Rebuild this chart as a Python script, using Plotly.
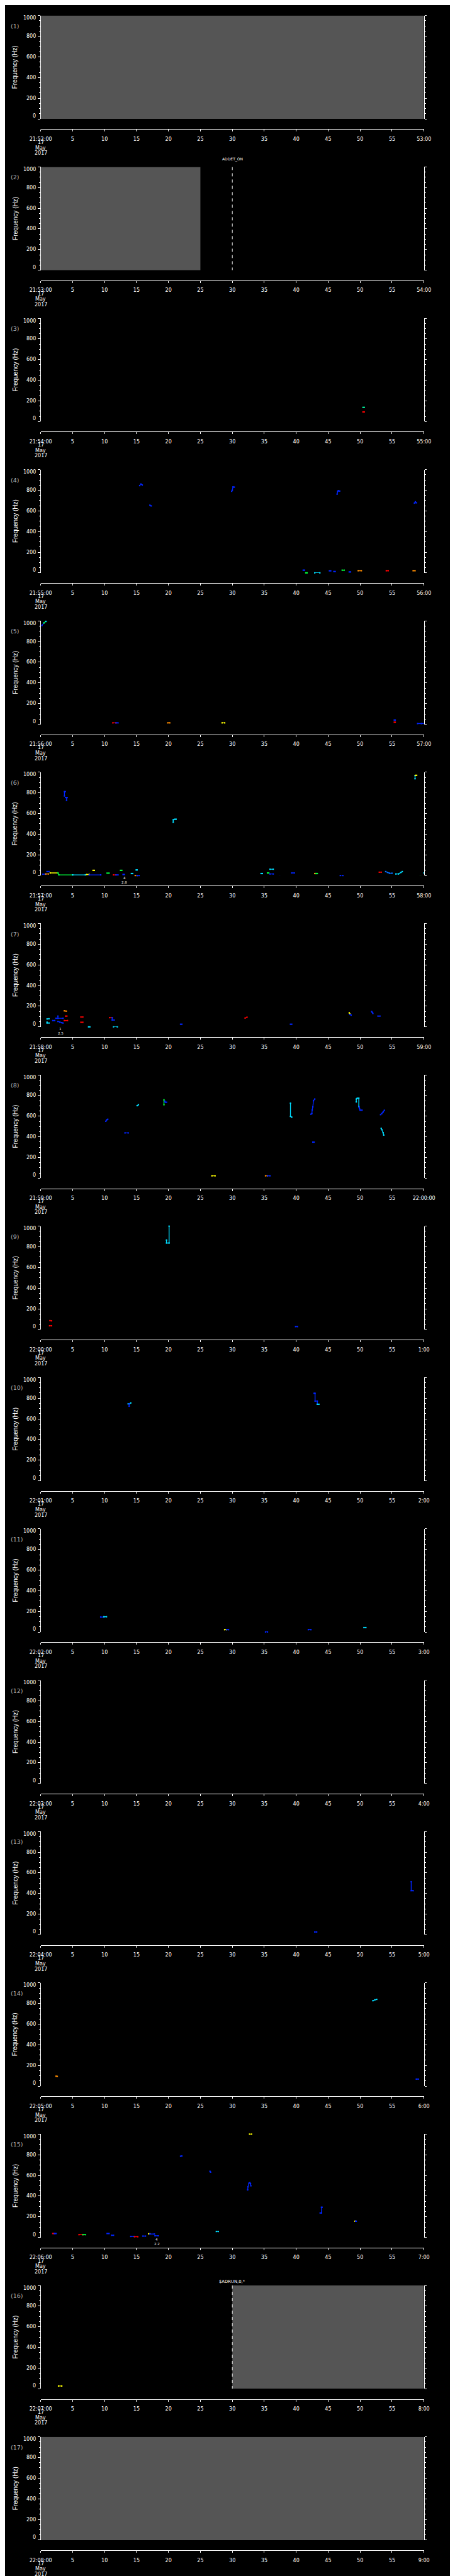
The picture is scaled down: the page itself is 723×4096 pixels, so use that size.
import plotly.graph_objects as go
from plotly.colors import sample_colorscale

# ---------------- data ----------------
START_LABELS = ["21:52:00", "21:53:00", "21:54:00", "21:55:00", "21:56:00", "21:57:00",
                "21:58:00", "21:59:00", "22:00:00", "22:01:00", "22:02:00", "22:03:00",
                "22:04:00", "22:05:00", "22:06:00", "22:07:00", "22:08:00"]
END_LABELS = ["53:00", "54:00", "55:00", "56:00", "57:00", "58:00", "59:00", "22:00:00",
              "1:00", "2:00", "3:00", "4:00", "5:00", "6:00", "7:00", "8:00", "9:00"]
X_TICKS = [0, 5, 10, 15, 20, 25, 30, 35, 40, 45, 50, 55, 60]
Y_TICKS = [0, 200, 400, 600, 800, 1000]
DATE_LINES = ["17", "May", "2017"]

# seconds without data (grey fill) per panel
NODATA = {1: (0, 60), 2: (0, 25), 16: (30, 60), 17: (0, 60)}
# event markers: (panel, second, label)
EVENTS = [(2, 30, "ADDET_ON"), (16, 30, "$ADRUN,0,*")]
# small notes under the plot: (panel, second, line1, line2)
NOTES = [(6, 13.1, "4", "2.8"), (7, 3.1, "1", "2.5"), (15, 18.2, "4", "2.2")]

# intensity levels (0 = weak/blue ... 1 = strong/red)
B, C, G, Yl, O, R = 0.05, 0.3, 0.5, 0.68, 0.85, 1.0

# features: (seconds, frequencies Hz, level)
P03 = [([50.45, 50.65], [137, 137], 0.4), ([50.45, 50.65], [93, 93], R)]
P04 = [([15.5, 15.7, 15.9], [845, 860, 850], B), ([17.1, 17.3], [655, 648], B),
       ([29.9, 30.0, 30.1, 30.3], [790, 800, 832, 830], B),
       ([46.4, 46.5, 46.6, 46.8], [762, 790, 795, 792], B),
       ([58.5, 58.65, 58.8], [675, 688, 678], B),
       ([60.2, 60.4, 60.6], [945, 960, 975], B), ([60.6, 60.8, 61.0, 61.2], [975, 988, 995, 997], C),
       ([41.1, 41.3], [26, 26], B), ([41.5, 41.7], [0, 0], G), ([42.9, 43.7], [0, 0], C),
       ([45.2, 45.4], [20, 20], B), ([45.9, 46.1], [13, 13], B), ([47.2, 47.5], [26, 26], G),
       ([48.3, 48.5], [9, 9], B), ([49.7, 50.2], [21, 21], O), ([54.1, 54.4], [21, 21], R),
       ([58.3, 58.6], [21, 21], O)]
P05 = [([0.2, 0.5], [955, 980], B), ([0.5, 0.8], [980, 995], G), ([0.8, 1.1], [995, 1008], C),
       ([5.4, 5.8], [-13, -13], O), ([11.3, 11.8], [13, 13], R), ([11.8, 12.1], [13, 13], B),
       ([19.9, 20.2], [13, 13], O), ([28.4, 28.8], [13, 13], Yl),
       ([55.35, 55.5], [40, 40], B), ([55.35, 55.5], [19, 19], R),
       ([59.0, 59.6, 60.2, 60.8], [6, 6, 6, 6], B), ([60.6, 61.0], [10, 12], G),
       ([60.9, 61.1], [33, 33], C)]
P06 = [([3.72, 3.72, 3.85], [770, 812, 812], B), ([3.9, 4.15], [755, 755], B),
       ([4.05, 4.05], [755, 727], B),
       ([20.75, 20.75, 21.0, 21.2], [515, 540, 545, 545], C),
       ([58.6, 58.6], [937, 968], C), ([58.65, 58.85], [970, 970], Yl),
       ([0.35, 0.8], [13, 13], B), ([0.8, 1.2], [15, 15], O), ([1.0, 1.3], [38, 38], B),
       ([1.5, 2.7], [25, 25], Yl), ([2.7, 2.85, 5.0], [25, 6, 6], G), ([5.0, 7.0], [6, 6], C),
       ([7.2, 7.6], [10, 10], Yl), ([7.6, 9.4], [6, 6], B), ([8.2, 8.4], [50, 50], Yl),
       ([10.4, 10.7], [23, 23], G), ([11.4, 11.8], [6, 6], R), ([11.8, 12.1], [6, 6], B),
       ([12.5, 12.7], [50, 50], G), ([12.9, 13.1], [10, 10], B), ([14.2, 14.4], [19, 19], C),
       ([14.8, 15.1], [0, 0], O), ([15.1, 15.4], [0, 0], B), ([14.95, 15.1], [54, 54], C),
       ([34.5, 34.7], [19, 19], C), ([35.5, 35.7], [25, 25], G), ([35.9, 36.4], [61, 61], C),
       ([35.9, 36.4], [15, 15], B), ([37.3, 37.5], [-6, -6], B), ([39.3, 39.7], [25, 25], B),
       ([42.9, 43.1], [19, 19], O), ([43.1, 43.3], [19, 19], G), ([46.9, 47.3], [0, 0], B),
       ([53.0, 53.3], [32, 32], R), ([54.0, 54.3, 54.6, 55.0], [38, 30, 22, 22], 0.15),
       ([55.6, 56.0, 56.4, 56.6], [15, 15, 30, 38], C), ([59.3, 59.6], [-6, -6], G),
       ([60.0, 60.3], [25, 25], C), ([61.0, 61.3], [30, 28], C)]
P07 = [([1.0, 1.3], [76, 78], C), ([1.0, 1.0, 1.3], [45, 37, 37], C), ([1.9, 2.2], [61, 61], B),
       ([2.4, 2.7, 2.7, 2.7, 3.5], [83, 83, 104, 83, 83], B),
       ([2.7, 3.0, 3.3, 3.5], [52, 45, 40, 37], B), ([3.7, 4.0], [155, 152], O),
       ([3.9, 4.1], [104, 104], R), ([3.7, 4.2], [61, 61], R), ([6.3, 6.6], [95, 95], R),
       ([6.3, 6.6], [44, 44], R), ([7.5, 7.7], [0, 0], C), ([10.8, 11.2], [89, 89], R),
       ([11.2, 11.2, 11.5], [89, 66, 66], B), ([11.4, 12.0], [0, 0], C),
       ([21.9, 22.1], [25, 25], B), ([32.0, 32.3], [85, 93], R), ([39.1, 39.3], [25, 25], B),
       ([48.3, 48.4], [136, 125], Yl), ([48.4, 48.6], [120, 113], B),
       ([51.8, 51.9, 52.0], [149, 140, 130], B), ([52.8, 53.1], [104, 104], B)]
P08 = [([10.2, 10.35, 10.5], [551, 565, 570], B), ([13.2, 13.7], [438, 438], B),
       ([15.1, 15.3], [702, 711], C), ([19.3, 19.3], [711, 758], G),
       ([19.45, 19.5, 19.7], [745, 735, 735], B), ([39.1, 39.1, 39.3], [726, 598, 590], C),
       ([42.3, 42.45, 42.5, 42.6, 42.7, 42.9], [619, 625, 660, 690, 750, 766], B),
       ([42.6, 42.8], [349, 349], B),
       ([49.4, 49.4, 49.55, 49.8, 49.8], [738, 766, 774, 774, 692], C),
       ([49.85, 49.9, 50.0, 50.3], [690, 672, 658, 658], B),
       ([53.2, 53.4, 53.6, 53.8], [615, 625, 640, 657], B),
       ([53.3, 53.4, 53.6, 53.7], [483, 470, 440, 417], C),
       ([26.8, 27.3], [23, 23], Yl), ([35.2, 35.5], [23, 23], O), ([35.5, 35.9], [23, 23], B)]
P09 = [([19.7, 19.7, 20.1, 20.1], [866, 837, 837, 1000], C), ([1.45, 1.7], [86, 84], R),
       ([1.4, 1.7], [36, 36], R), ([39.9, 40.2], [28, 28], B)]
P10 = [([13.7, 13.9, 14.1], [745, 745, 754], C), ([13.85, 13.85], [745, 722], B),
       ([42.8, 42.95, 42.95, 43.3, 43.3], [847, 847, 772, 772, 741], B),
       ([43.3, 43.55], [741, 741], C)]
P11 = [([9.4, 9.9], [146, 146], B), ([9.9, 10.3], [149, 149], C), ([28.8, 29.1], [24, 24], Yl),
       ([29.1, 29.4], [24, 24], B), ([35.2, 35.5], [2, 2], B), ([41.9, 42.3], [24, 24], B),
       ([50.6, 50.9], [44, 44], C)]
P12 = []
P13 = [([42.9, 43.2], [27, 27], B), ([58.0, 58.0, 58.3], [514, 427, 427], B)]
P14 = [([52.0, 52.3, 52.6], [827, 835, 840], C), ([2.4, 2.6], [96, 94], O),
       ([58.8, 59.1], [68, 68], B)]
P15 = [([32.7, 33.0], [1000, 1000], Yl), ([21.9, 22.1], [786, 788], B),
       ([26.5, 26.6], [640, 632], B),
       ([32.4, 32.45, 32.6, 32.75, 32.85, 32.9], [460, 490, 525, 530, 520, 500], B),
       ([43.75, 43.95, 43.95, 44.05], [237, 237, 292, 292], B),
       ([49.2, 49.3], [157, 157], Yl), ([49.3, 49.4], [157, 157], B), ([27.5, 27.8], [58, 58], C),
       ([1.9, 2.15], [38, 38], R), ([2.15, 2.4], [38, 38], B), ([6.0, 6.6], [27, 27], R),
       ([6.6, 7.0], [27, 27], G), ([10.4, 10.7], [38, 38], B), ([11.1, 11.4], [21, 21], B),
       ([14.1, 14.6], [10, 10], B), ([14.7, 15.2], [7, 7], R), ([16.0, 16.4], [13, 13], B),
       ([16.9, 17.1], [35, 35], Yl), ([17.1, 17.8], [33, 33], B), ([17.9, 18.4], [16, 16], B)]
P16 = [([2.8, 3.3], [27, 27], Yl)]
FEATURES = {3: P03, 4: P04, 5: P05, 6: P06, 7: P07, 8: P08, 9: P09, 10: P10, 11: P11,
            12: P12, 13: P13, 14: P14, 15: P15, 16: P16}

COLORSCALE = [[0.0, "rgb(0,0,255)"], [0.3, "rgb(0,220,255)"], [0.5, "rgb(0,255,60)"],
              [0.68, "rgb(255,255,0)"], [0.85, "rgb(255,140,0)"], [1.0, "rgb(255,0,0)"]]

# ---------------- geometry (reference px, scaled by S) ----------------
W, H = 723, 4096
S = 0.705
NP = 17
LEFT, RIGHT = 80.3, 944.3
TOP0, PITCH, PH, AXOFF = 23.8, 341.3, 233.0, 23.0
GREY = "#555555"
LABEL_GREY = "#b0b0b0"
TICKFONT = dict(family="DejaVu Sans", size=8, color="white")


def yp(px):
    return 1 - px * S / H


def xp(px):
    return px * S / W


def sfx(k):
    # panel k uses axis pair x{k+1}/y{k+1}
    return str(k + 1)


fig = go.Figure()
layout = dict(width=W, height=H, margin=dict(l=0, r=0, t=0, b=0), autosize=False,
              paper_bgcolor="black", plot_bgcolor="black", showlegend=False,
              template="none")
annotations = []

for k in range(1, NP + 1):
    s = sfx(k)
    xa, ya = "x" + s, "y" + s
    top = TOP0 + (k - 1) * PITCH
    bot = top + PH
    layout["xaxis" + s] = dict(
        domain=[xp(LEFT), xp(RIGHT)], range=[0, 60], anchor="free", position=yp(bot + AXOFF),
        showline=True, linecolor="white", linewidth=1, ticks="outside", ticklen=3,
        tickcolor="white", tickwidth=1, tickmode="array", tickvals=X_TICKS,
        ticktext=[START_LABELS[k - 1]] + [str(v) for v in X_TICKS[1:-1]] + [END_LABELS[k - 1]],
        tickfont=TICKFONT, tickangle=0, showgrid=False, zeroline=False, fixedrange=True,
        ticklabelstandoff=5)
    layout["yaxis" + s] = dict(
        domain=[yp(bot), yp(top)], range=[0, 1000], anchor=xa, showline=True,
        linecolor="white", linewidth=1, mirror="ticks", ticks="outside", ticklen=3.3,
        tickcolor="white", tickwidth=1, tickmode="linear", tick0=0, dtick=200,
        showticklabels=False, showgrid=False, zeroline=False, fixedrange=True,
        minor=dict(ticks="outside", ticklen=2, tickcolor="white", tickwidth=1,
                   dtick=50, tick0=0, showgrid=False))

    # y tick labels
    for v in Y_TICKS:
        anc = "top" if v == 1000 else ("bottom" if v == 0 else "middle")
        ysh = 1.5 if v == 1000 else (-1 if v == 0 else 0)
        annotations.append(dict(text=str(v), xref="paper", x=xp(70.9), xanchor="right",
                                yref=ya, y=v, yanchor=anc, yshift=ysh, showarrow=False,
                                font=TICKFONT, borderpad=0))
    # date lines under first tick
    for i, t in enumerate(DATE_LINES):
        annotations.append(dict(text=t, xref=xa, x=0, xanchor="center", yref="paper",
                                y=yp(bot + 53.0 + i * 12.2), yanchor="middle",
                                showarrow=False, font=TICKFONT, borderpad=0))
    # y title
    annotations.append(dict(text="Frequency (Hz)", xref="paper", x=xp(23.2), xanchor="center",
                            yref="paper", y=yp(top + PH / 2), yanchor="middle", textangle=-90,
                            showarrow=False, borderpad=0,
                            font=dict(family="Liberation Sans", size=10, color="white")))
    # panel number
    annotations.append(dict(text="(%d)" % k, xref="paper", x=xp(11), xanchor="left",
                            yref="paper", y=yp(top + 23.5), yanchor="middle", showarrow=False,
                            borderpad=0,
                            font=dict(family="DejaVu Sans", size=9.5, color=LABEL_GREY)))

    # no-data fill (grey)
    if k in NODATA:
        t0, t1 = NODATA[k]
        fig.add_trace(go.Scatter(x=[t0, t1, t1, t0, t0], y=[0, 0, 1000, 1000, 0],
                                 mode="lines", fill="toself", fillcolor=GREY,
                                 line=dict(width=0, color=GREY), xaxis=xa, yaxis=ya,
                                 hoverinfo="skip", showlegend=False))
    else:
        # invisible anchor trace so every panel is a real subplot
        fig.add_trace(go.Scatter(x=[None], y=[None], mode="lines", xaxis=xa, yaxis=ya,
                                 hoverinfo="skip", showlegend=False))

    # features
    for ts, fs, lev in FEATURES.get(k, []):
        col = sample_colorscale(COLORSCALE, [lev])[0]
        fig.add_trace(go.Scatter(
            x=ts, y=fs, mode="lines+markers", xaxis=xa, yaxis=ya, cliponaxis=False,
            line=dict(color=col, width=1.4),
            marker=dict(color=col, size=2.2, symbol="square", line=dict(width=0)),
            hoverinfo="skip", showlegend=False))

# event markers
for k, t, lab in EVENTS:
    s = sfx(k)
    top = TOP0 + (k - 1) * PITCH
    fig.add_trace(go.Scatter(x=[t, t], y=[1000, 0], mode="lines", xaxis="x" + s,
                             yaxis="y" + s, line=dict(color="white", width=1, dash="5px,5px"),
                             hoverinfo="skip", showlegend=False))
    off = 17.0 if k == 2 else 8.7
    fsz = 6 if k == 2 else 6.8
    annotations.append(dict(text=lab, xref="x" + s, x=t, xanchor="center", yref="paper",
                            y=yp(top - off), yanchor="middle", showarrow=False, borderpad=0,
                            font=dict(family="DejaVu Sans", size=fsz, color="white")))

# notes
for k, t, l1, l2 in NOTES:
    s = sfx(k)
    bot = TOP0 + (k - 1) * PITCH + PH
    for txt, off in ((l1, 5.1), (l2, 15.2)):
        annotations.append(dict(text=txt, xref="x" + s, x=t, xanchor="center", yref="paper",
                                y=yp(bot + off), yanchor="middle", showarrow=False, borderpad=0,
                                font=dict(family="DejaVu Sans", size=5.5, color="white")))

layout["annotations"] = annotations
fig.update_layout(**layout)
fig.write_html("out.html")
